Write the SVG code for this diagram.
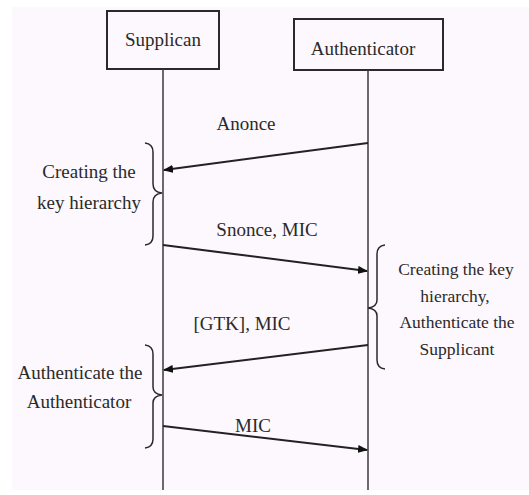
<svg xmlns="http://www.w3.org/2000/svg" width="529" height="495" viewBox="0 0 529 495">
<style>
text{font-family:"Liberation Serif","Times New Roman",serif;fill:#2a2a2a;text-anchor:middle}
.lbl{font-size:19px}
.rt{font-size:17.5px}
.box{fill:none;stroke:#2a2a2a;stroke-width:2}
.life{stroke:#3a3a3a;stroke-width:1.5}
.msg{stroke:#222;stroke-width:2;fill:none}
.brace{stroke:#2a2a2a;stroke-width:1.5;fill:none}
</style>
<defs>
<marker id="ah" markerWidth="10" markerHeight="8" refX="9" refY="4" orient="auto" markerUnits="userSpaceOnUse">
<path d="M0,0 L10,4 L0,8 Z" fill="#111"/>
</marker>
</defs>
<rect x="0" y="0" width="529" height="495" fill="#ffffff"/>
<rect x="12" y="7" width="517" height="483" fill="#fdf8fd"/>

<g id="supplicant">
<rect class="box" x="107" y="11" width="112" height="58"/>
<text class="lbl" x="163" y="46">Supplican</text>
<line class="life" x1="163" y1="69" x2="163" y2="490"/>
</g>
<g id="authenticator">
<rect class="box" x="294" y="19" width="149" height="51"/>
<text class="lbl" x="363" y="55">Authenticator</text>
<line class="life" x1="368" y1="70" x2="368" y2="490"/>
</g>

<g id="connectors">
<line class="msg" x1="368" y1="143" x2="164" y2="170" marker-end="url(#ah)"/>
<line class="msg" x1="163" y1="245" x2="367" y2="271" marker-end="url(#ah)"/>
<line class="msg" x1="368" y1="345" x2="164" y2="370" marker-end="url(#ah)"/>
<line class="msg" x1="163" y1="426" x2="367" y2="450" marker-end="url(#ah)"/>
</g>

<g id="labels">
<text class="lbl" x="246" y="130">Anonce</text>
<text class="lbl" x="267" y="236">Snonce, MIC</text>
<text class="lbl" x="242" y="330">[GTK], MIC</text>
<text class="lbl" x="253" y="432">MIC</text>
</g>

<g id="note-s1">
<path class="brace" d="M145,143 Q153,144 153,152 L153,184 Q153,192 162,193 Q153,194 153,202 L153,236 Q153,244 145,245"/>
<text class="lbl" x="89" y="178">Creating the</text>
<text class="lbl" x="89" y="209">key hierarchy</text>
</g>

<g id="note-a1">
<path class="brace" d="M385,245 Q377,246 377,254 L377,300 Q377,307 368,308 Q377,309 377,316 L377,360 Q377,368 385,369"/>
<text class="rt" x="456" y="275">Creating the key</text>
<text class="rt" x="455" y="302">hierarchy,</text>
<text class="rt" x="457" y="328">Authenticate the</text>
<text class="rt" x="457" y="355">Supplicant</text>
</g>

<g id="note-s2">
<path class="brace" d="M145,345 Q153,346 153,354 L153,387 Q153,394 162,395 Q153,396 153,403 L153,439 Q153,447 145,448"/>
<text class="lbl" x="80" y="379">Authenticate the</text>
<text class="lbl" x="79" y="408">Authenticator</text>
</g>
</svg>
